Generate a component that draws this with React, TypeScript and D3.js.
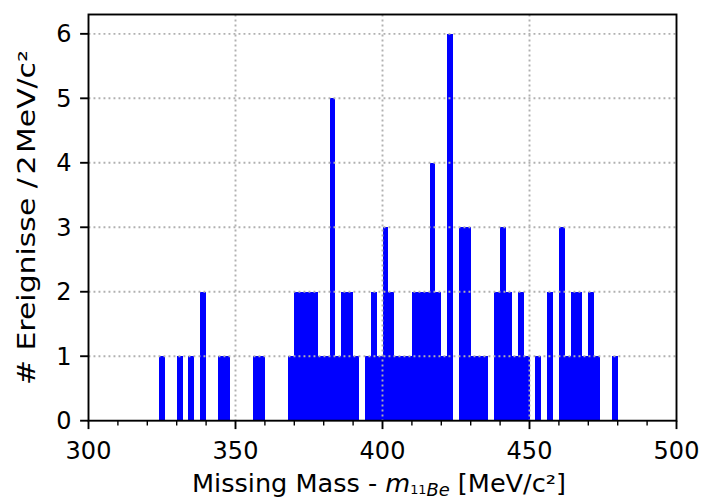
import React from "react";
import * as d3 from "d3";

// Histogram of missing-mass events, 2 MeV/c² bins (lower bin edges and counts)
const binLowerEdges = [
  324, 330, 334, 338, 344, 346, 356, 358,
  368, 370, 372, 374, 376, 378, 380, 382, 384, 386, 388, 390,
  394, 396, 398, 400, 402, 404, 406, 408, 410, 412, 414, 416, 418, 420, 422,
  426, 428, 430, 432, 434, 438, 440, 442, 444, 446, 448,
  452, 456, 460, 462, 464, 466, 468, 470, 472, 478,
];
const eventCounts = [
  1, 1, 1, 2, 1, 1, 1, 1,
  1, 2, 2, 2, 2, 1, 1, 5, 1, 2, 2, 1,
  1, 2, 1, 3, 2, 1, 1, 1, 2, 2, 2, 4, 2, 1, 6,
  3, 3, 1, 1, 1, 2, 3, 2, 1, 2, 1,
  1, 2, 3, 1, 2, 2, 1, 2, 1, 1,
];
const binWidth = 2;

const xMajorTicks = [300, 350, 400, 450, 500];
const xMinorTicks = d3.range(300, 501, 10).filter((v) => v % 50 !== 0);
const yTicks = [0, 1, 2, 3, 4, 5, 6];

const W = 703;
const H = 500;
const FONT = "'DejaVu Sans', sans-serif";
const FS = 24;

export default function App() {
  const left = 88.5;
  const right = 676.5;
  const top = 14.5;
  const bottom = 420.7;

  const x = d3.scaleLinear().domain([300, 500]).range([left, right]);
  const y = d3.scaleLinear().domain([0, 6.3]).range([bottom, top]);

  const bins = binLowerEdges.map((e, i) => ({ x0: e, x1: e + binWidth, n: eventCounts[i] }));

  const gridStyle = {
    stroke: "#b0b0b0",
    strokeWidth: 1.9,
    strokeDasharray: "1.9,3.1",
  };

  return (
    <svg
      width={W}
      height={H}
      style={{ position: "absolute", left: 0, top: 0, background: "#fff" }}
      fontFamily={FONT}
    >
      <rect x={0} y={0} width={W} height={H} fill="#fff" />
      {/* bars */}
      <g shapeRendering="crispEdges">
        {bins.map((b, i) => (
          <rect
            key={i}
            x={x(b.x0)}
            width={x(b.x1) - x(b.x0)}
            y={y(b.n)}
            height={y(0) - y(b.n)}
            fill="#0000ff"
          />
        ))}
      </g>
      {/* grid, drawn over the bars */}
      <g>
        {xMajorTicks.slice(1, -1).map((v) => (
          <line key={"gx" + v} x1={x(v)} x2={x(v)} y1={top} y2={bottom} style={gridStyle} />
        ))}
        {yTicks.slice(1).map((v) => (
          <line key={"gy" + v} x1={left} x2={right} y1={y(v)} y2={y(v)} style={gridStyle} />
        ))}
      </g>
      {/* frame */}
      <rect
        x={left}
        y={top}
        width={right - left}
        height={bottom - top}
        fill="none"
        stroke="#000"
        strokeWidth={1.9}
      />
      {/* x ticks */}
      {xMajorTicks.map((v) => (
        <g key={"xt" + v}>
          <line x1={x(v)} x2={x(v)} y1={bottom} y2={bottom + 8.4} stroke="#000" strokeWidth={1.9} />
          <text x={x(v)} y={459} textAnchor="middle" fontSize={FS} fill="#000">
            {v}
          </text>
        </g>
      ))}
      {xMinorTicks.map((v) => (
        <line key={"xm" + v} x1={x(v)} x2={x(v)} y1={bottom} y2={bottom + 4.8} stroke="#000" strokeWidth={1.4} />
      ))}
      {/* y ticks */}
      {yTicks.map((v) => (
        <g key={"yt" + v}>
          <line x1={left - 8.4} x2={left} y1={y(v)} y2={y(v)} stroke="#000" strokeWidth={1.9} />
          <text x={left - 17} y={y(v)} dy="0.36em" textAnchor="end" fontSize={FS} fill="#000">
            {v}
          </text>
        </g>
      ))}
      {/* axis labels */}
      <text
        x={379}
        y={492}
        textAnchor="middle"
        fontSize={FS}
        fill="#000"
        textLength={374}
        lengthAdjust="spacingAndGlyphs"
      >
        <tspan>Missing Mass - </tspan>
        <tspan fontStyle="italic">m</tspan>
        <tspan fontSize={FS * 0.5} dy={2}>11</tspan>
        <tspan fontSize={FS * 0.7} fontStyle="italic" dy={2}>Be</tspan>
        <tspan dy={-4}> [MeV/c²]</tspan>
      </text>
      <text
        transform={`translate(35, 217.5) rotate(-90)`}
        textAnchor="middle"
        fontSize={FS}
        fill="#000"
        textLength={335}
        lengthAdjust="spacingAndGlyphs"
      >
        # Ereignisse /<tspan dx={3}>2</tspan>
        <tspan dx={2}>MeV/c²</tspan>
      </text>
    </svg>
  );
}
